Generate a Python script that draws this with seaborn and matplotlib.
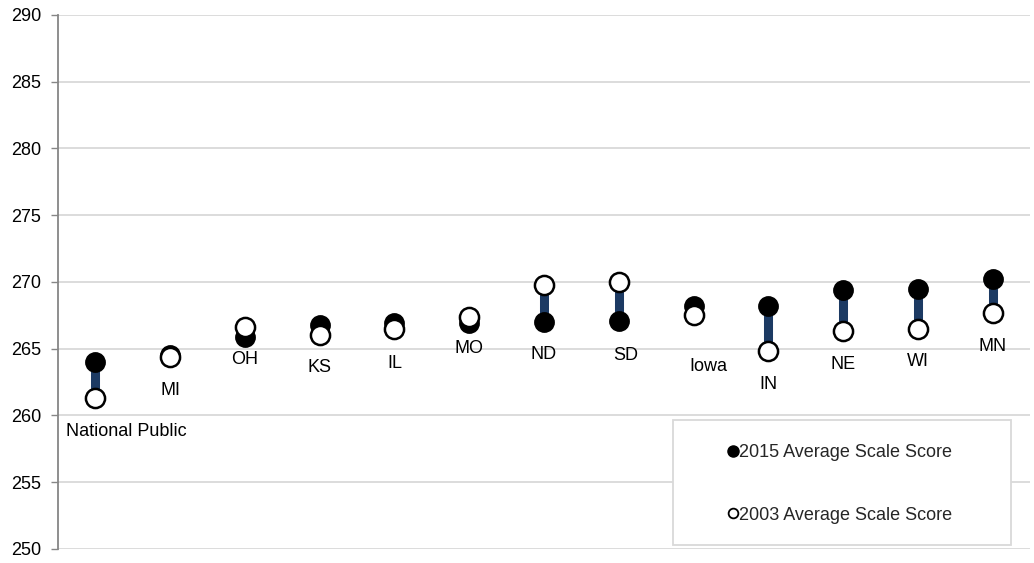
import numpy as np
import pandas as pd
import matplotlib
matplotlib.use("Agg")
import matplotlib.pyplot as plt
from matplotlib.patches import Rectangle
from matplotlib.lines import Line2D
import seaborn as sns

# values
states = ["National Public", "MI", "OH", "KS", "IL", "MO", "ND", "SD",
          "Iowa", "IN", "NE", "WI", "MN"]
score_2015 = [264.0, 264.5, 265.9, 266.8, 266.9, 266.9, 267.0, 267.1,
              268.2, 268.2, 269.4, 269.5, 270.2]
score_2003 = [261.3, 264.4, 266.6, 266.0, 266.5, 267.4, 269.8, 270.0,
              267.5, 264.8, 266.3, 266.5, 267.7]

# label placement (pixels below the lower marker, pixels right)
label_dy = [33, 34, 23, 32, 35, 25, 32, 35, 51, 33, 33, 33, 34]
label_dx = [31, 0, 0, 0, 0, 0, 0, 7, 15, 0, 0, 0, 0]

df = pd.DataFrame({"state": states, "s2015": score_2015, "s2003": score_2003})

sns.set_theme(style="white")
plt.rcParams["font.family"] = ["Liberation Sans", "DejaVu Sans"]
FS = 13

fig = plt.figure(figsize=(10.34, 5.63), dpi=100)
ax = fig.add_axes([58 / 1034, 1 - 549 / 563, (1030 - 58) / 1034, (549 - 15) / 563])

xpos = np.arange(len(states))
ax.vlines(xpos, df["s2015"], df["s2003"], color="#1c3a63", lw=6.5, zorder=2)
sns.scatterplot(data=df, x="state", y="s2015", ax=ax, s=190, color="black",
                edgecolor="black", linewidth=1.2, zorder=3, legend=False)
sns.scatterplot(data=df, x="state", y="s2003", ax=ax, s=190, color="white",
                edgecolor="black", linewidth=1.8, zorder=4, legend=False)

for i, row in df.iterrows():
    low = min(row["s2015"], row["s2003"])
    ax.annotate(row["state"], (i, low), xytext=(label_dx[i], -label_dy[i]),
                textcoords="offset pixels", ha="center", va="center",
                fontsize=FS, color="black")

ax.set_xlim(-0.5, len(states) - 0.5)
ax.set_ylim(250, 290)
ax.set_yticks(np.arange(250, 291, 5))
ax.set_xticks([])
ax.set_xlabel("")
ax.set_ylabel("")
ax.yaxis.grid(True, color="#d9d9d9", lw=1.3)
ax.set_axisbelow(True)
for side in ["top", "right", "bottom"]:
    ax.spines[side].set_visible(False)
ax.spines["left"].set_color("#868686")
ax.spines["left"].set_linewidth(1.3)
ax.tick_params(axis="y", left=True, length=5, width=1, color="#868686",
               labelsize=FS, pad=7, labelcolor="black")

# legend box
fig.patches.append(Rectangle((673 / 1034, 1 - 545 / 563), 338 / 1034, 125 / 563,
                             transform=fig.transFigure, facecolor="white",
                             edgecolor="#d9d9d9", lw=1.3, zorder=5))
handles = [
    Line2D([], [], ls="none", marker="o", markersize=8, markerfacecolor="black",
           markeredgecolor="black"),
    Line2D([], [], ls="none", marker="o", markersize=7, markerfacecolor="white",
           markeredgecolor="black", markeredgewidth=1.3),
]
leg = fig.legend(handles, ["2015 Average Scale Score", "2003 Average Scale Score"],
                 loc="center left", bbox_to_anchor=(719 / 1034, 1 - 484 / 563),
                 frameon=False, fontsize=FS, handlelength=0.5, handletextpad=0.12,
                 labelspacing=2.5, borderpad=0)
leg.set_zorder(6)

fig.savefig("out.png", dpi=100)
